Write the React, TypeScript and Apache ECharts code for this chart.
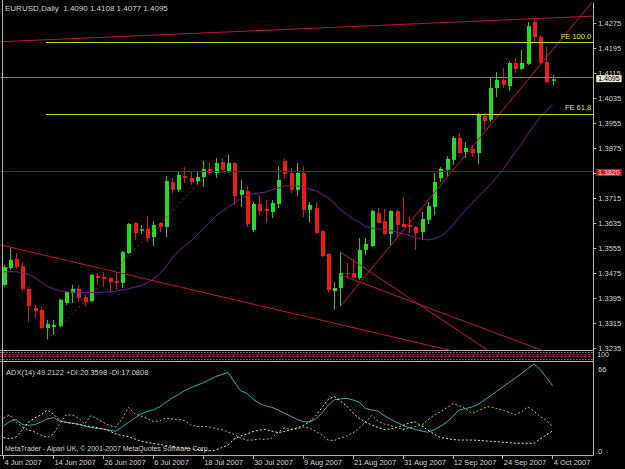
import React, { useEffect, useRef } from 'react';
import * as echarts from 'echarts';

// ---------- axis tick labels ----------
const priceTicks = [1.4275, 1.4195, 1.4115, 1.4035, 1.3955, 1.3875, 1.3795, 1.3715, 1.3635, 1.3555, 1.3475, 1.3395, 1.3315, 1.3235];
const dateTicks = ['4 Jun 2007', '14 Jun 2007', '26 Jun 2007', '6 Jul 2007', '18 Jul 2007', '30 Jul 2007', '9 Aug 2007', '21 Aug 2007', '31 Aug 2007', '12 Sep 2007', '24 Sep 2007', '4 Oct 2007'];
const dateTickStep = 8; // bars between date labels

// ---------- daily candles (bar 0 = 4 Jun 2007) ----------
const opens = [1.3437, 1.3491, 1.3520, 1.3497, 1.3424, 1.3363, 1.3357, 1.3299, 1.3302, 1.3305,
  1.3379, 1.3411, 1.3424, 1.3398, 1.3385, 1.3465, 1.3462, 1.3459, 1.3449, 1.3443,
  1.3539, 1.3635, 1.3610, 1.3616, 1.3590, 1.3635, 1.3622, 1.3766, 1.3741, 1.3785,
  1.3779, 1.3769, 1.3782, 1.3808, 1.3795, 1.3830, 1.3801, 1.3827, 1.3725, 1.3737,
  1.3613, 1.3696, 1.3680, 1.3670, 1.3696, 1.3833, 1.3795, 1.3741, 1.3795, 1.3677,
  1.3683, 1.3609, 1.3536, 1.3417, 1.3427, 1.3475, 1.3475, 1.3459, 1.3549, 1.3561,
  1.3667, 1.3641, 1.3600, 1.3673, 1.3632, 1.3629, 1.3622, 1.3606, 1.3645, 1.3686,
  1.3779, 1.3805, 1.3837, 1.3907, 1.3862, 1.3872, 1.3859, 1.3977, 1.3965, 1.4067,
  1.4093, 1.4073, 1.4147, 1.4128, 1.4144, 1.4278, 1.4230, 1.4150, 1.4090];
const closes = [1.3494, 1.3517, 1.3494, 1.3424, 1.3369, 1.3353, 1.3299, 1.3312, 1.3309, 1.3389,
  1.3414, 1.3424, 1.3395, 1.3382, 1.3469, 1.3459, 1.3456, 1.3446, 1.3443, 1.3542,
  1.3632, 1.3603, 1.3615, 1.3587, 1.3629, 1.3622, 1.3769, 1.3741, 1.3789, 1.3779,
  1.3766, 1.3782, 1.3808, 1.3795, 1.3827, 1.3805, 1.3827, 1.3721, 1.3741, 1.3632,
  1.3696, 1.3673, 1.3673, 1.3699, 1.3773, 1.3792, 1.3741, 1.3795, 1.3677, 1.3693,
  1.3603, 1.3529, 1.3421, 1.3427, 1.3475, 1.3472, 1.3459, 1.3549, 1.3568, 1.3673,
  1.3635, 1.3600, 1.3673, 1.3629, 1.3622, 1.3622, 1.3603, 1.3648, 1.3689, 1.3766,
  1.3808, 1.3840, 1.3907, 1.3859, 1.3875, 1.3859, 1.3981, 1.3961, 1.4067, 1.4093,
  1.4077, 1.4147, 1.4128, 1.4147, 1.4265, 1.4230, 1.4147, 1.4086, 1.4095];
const lows = [1.3430, 1.3485, 1.3488, 1.3417, 1.3318, 1.3331, 1.3296, 1.3261, 1.3277, 1.3302,
  1.3373, 1.3379, 1.3385, 1.3369, 1.3382, 1.3437, 1.3430, 1.3411, 1.3421, 1.3427,
  1.3536, 1.3581, 1.3600, 1.3574, 1.3561, 1.3606, 1.3590, 1.3731, 1.3734, 1.3763,
  1.3757, 1.3757, 1.3750, 1.3789, 1.3779, 1.3795, 1.3795, 1.3693, 1.3686, 1.3622,
  1.3606, 1.3661, 1.3635, 1.3651, 1.3683, 1.3779, 1.3731, 1.3721, 1.3654, 1.3638,
  1.3600, 1.3526, 1.3414, 1.3357, 1.3369, 1.3459, 1.3457, 1.3453, 1.3533, 1.3558,
  1.3633, 1.3597, 1.3561, 1.3590, 1.3620, 1.3603, 1.3549, 1.3581, 1.3632, 1.3661,
  1.3766, 1.3782, 1.3821, 1.3857, 1.3843, 1.3846, 1.3824, 1.3933, 1.3958, 1.4038,
  1.4067, 1.4057, 1.4115, 1.4125, 1.4141, 1.4211, 1.4141, 1.4083, 1.4077];
const highs = [1.3501, 1.3555, 1.3539, 1.3510, 1.3430, 1.3373, 1.3366, 1.3325, 1.3325, 1.3392,
  1.3417, 1.3437, 1.3437, 1.3405, 1.3471, 1.3475, 1.3478, 1.3462, 1.3478, 1.3545,
  1.3635, 1.3638, 1.3629, 1.3657, 1.3641, 1.3638, 1.3785, 1.3779, 1.3798, 1.3814,
  1.3801, 1.3798, 1.3833, 1.3827, 1.3843, 1.3843, 1.3853, 1.3830, 1.3773, 1.3753,
  1.3702, 1.3725, 1.3709, 1.3709, 1.3817, 1.3840, 1.3811, 1.3827, 1.3817, 1.3702,
  1.3702, 1.3613, 1.3538, 1.3446, 1.3542, 1.3507, 1.3520, 1.3587, 1.3587, 1.3677,
  1.3683, 1.3680, 1.3677, 1.3677, 1.3718, 1.3654, 1.3625, 1.3670, 1.3702, 1.3795,
  1.3814, 1.3849, 1.3913, 1.3923, 1.3894, 1.3885, 1.3987, 1.3987, 1.4099, 1.4118,
  1.4131, 1.4153, 1.4163, 1.4189, 1.4278, 1.4285, 1.4237, 1.4198, 1.4108];

// moving average (purple)
const movingAvg = [1.3479, 1.3479, 1.3479, 1.3477, 1.3470, 1.3461, 1.3446, 1.3433, 1.3424, 1.3418,
  1.3415, 1.3414, 1.3413, 1.3413, 1.3413, 1.3413, 1.3414, 1.3415, 1.3416, 1.3421,
  1.3424, 1.3430, 1.3434, 1.3443, 1.3456, 1.3473, 1.3494, 1.3523, 1.3544, 1.3561,
  1.3577, 1.3597, 1.3617, 1.3637, 1.3657, 1.3672, 1.3686, 1.3699, 1.3713, 1.3723,
  1.3728, 1.3731, 1.3734, 1.3741, 1.3747, 1.3754, 1.3754, 1.3754, 1.3749, 1.3744,
  1.3739, 1.3728, 1.3715, 1.3699, 1.3677, 1.3664, 1.3649, 1.3637, 1.3624, 1.3619,
  1.3616, 1.3615, 1.3611, 1.3606, 1.3601, 1.3595, 1.3589, 1.3584, 1.3581, 1.3584,
  1.3592, 1.3606, 1.3629, 1.3653, 1.3675, 1.3697, 1.3718, 1.3737, 1.3757, 1.3782,
  1.3805, 1.3833, 1.3862, 1.3886, 1.3920, 1.3947, 1.3975, 1.3995, 1.4013];

// ADX(14) pane
const adx = [20.6, 23.8, 25.2, 21.6, 21.1, 21.6, 23.4, 25.5, 26.6, 24.0,
  23.3, 22.7, 21.8, 20.6, 19.5, 18.9, 18.5, 17.6, 16.8, 20.0,
  23.1, 26.1, 29.1, 30.9, 32.1, 34.1, 37.3, 40.4, 42.9, 45.6,
  47.7, 49.5, 51.3, 53.4, 55.7, 57.1, 58.6, 51.8, 45.6, 43.8,
  39.6, 36.6, 34.9, 33.8, 31.9, 29.7, 27.5, 25.5, 23.7, 23.5,
  25.5, 29.8, 35.1, 39.2, 39.8, 40.2, 39.0, 37.6, 33.1, 31.9,
  31.2, 28.0, 25.5, 23.1, 21.1, 19.4, 18.1, 17.0, 16.2, 17.7,
  20.4, 23.1, 27.3, 31.9, 33.0, 33.9, 35.8, 38.7, 41.9, 45.1,
  48.3, 51.5, 54.6, 57.8, 61.2, 64.6, 60.7, 55.0, 49.2];
const plusDI = [26.3, 28.4, 23.4, 19.9, 17.7, 16.3, 14.2, 12.4, 14.9, 22.0,
  28.4, 28.4, 26.3, 22.0, 28.0, 25.5, 23.1, 20.9, 19.9, 25.5,
  33.7, 29.5, 27.7, 25.9, 23.8, 24.1, 26.3, 25.5, 25.3, 24.5,
  21.3, 20.2, 20.2, 19.9, 18.8, 18.0, 16.3, 14.5, 12.1, 10.6,
  10.6, 11.4, 11.0, 12.1, 16.3, 19.2, 18.1, 18.5, 19.9, 19.2,
  17.0, 14.2, 10.6, 10.3, 12.1, 13.5, 15.6, 19.2, 23.4, 28.0,
  24.1, 22.0, 20.9, 19.5, 18.1, 19.2, 20.2, 21.3, 24.8, 28.4,
  30.5, 33.4, 36.2, 35.1, 33.0, 29.5, 31.2, 33.4, 34.3, 33.0,
  31.9, 30.2, 28.7, 30.5, 34.1, 31.2, 27.3, 24.5, 20.4];
const minusDI = [12.4, 11.4, 12.8, 17.7, 23.4, 26.3, 28.4, 31.9, 29.1, 24.5,
  23.1, 22.4, 21.8, 20.9, 20.2, 19.4, 18.5, 17.0, 14.9, 13.8,
  13.1, 11.4, 9.9, 8.9, 8.2, 7.5, 6.7, 6.2, 5.5, 5.0,
  4.3, 3.9, 3.2, 3.0, 3.5, 5.3, 7.1, 11.4, 13.5, 14.9,
  16.7, 17.7, 18.1, 17.0, 16.0, 16.7, 18.1, 19.2, 20.9, 23.4,
  27.7, 33.4, 39.4, 41.4, 38.3, 34.8, 29.8, 26.0, 23.4, 21.3,
  19.5, 18.1, 18.5, 19.5, 20.9, 22.7, 23.4, 20.6, 17.7, 14.9,
  12.4, 11.7, 11.0, 10.6, 10.6, 10.6, 10.4, 10.1, 9.7, 9.4,
  9.0, 8.7, 8.3, 8.3, 8.3, 8.3, 11.4, 14.2, 17.1];

// ---------- drawn objects (bar index, price) ----------
const topChannel = [[-0.5, 1.4215], [94.5, 1.4297]];
const riseLine = [[54, 1.3369], [94.5, 1.4346]];
const dottedRise = [[7, 1.3261], [36, 1.3859]];
const fallLong = [[-0.5, 1.3565], [80, 1.3188]];
const fallSteep = [[54, 1.3542], [80, 1.3196]];
const fallMid = [[54, 1.3469], [94.5, 1.3166]];
const fibStart = 6.8;
const fe100 = 1.4213;
const fe618 = 1.3984;
const supportLevel = 1.3820;
const bidPrice = 1.4095;
const stripLevels = [88, 66, 44, 18];

const FONT = '"Liberation Sans", Arial, sans-serif';
const FRAME = '#BAB39B';
const TXT = '#D2D2D2';
const TREND = '#C0143C';

export default function App() {
  const ref = useRef<HTMLDivElement>(null);

  useEffect(() => {
    document.body.style.margin = '0';
    document.body.style.background = '#000';
    const chart = echarts.init(ref.current as HTMLDivElement, null, { renderer: 'svg' });

    const candles = opens.map((o, i) => [i, o, closes[i], lows[i], highs[i]]);
    const pts = (arr: number[]) => arr.map((v, i) => [i, v]);
    const barTickValues = dateTicks.map((_, k) => k * dateTickStep);

    const trendSeries = (data: number[][], type: any, color: string) => ({
      type: 'line',
      xAxisIndex: 0,
      yAxisIndex: 0,
      data,
      clip: true,
      symbol: 'none',
      silent: true,
      z: 3,
      lineStyle: { color, width: 1, type },
    });

    const hiddenX = (gridIndex: number, showLine: boolean) => ({
      type: 'value',
      gridIndex,
      min: -0.5,
      max: 94.5,
      axisLine: { show: showLine, lineStyle: { color: FRAME, width: 1 } },
      axisTick: { show: false },
      axisLabel: { show: false },
      splitLine: { show: false },
    });

    const boxLabel = (text: string, bg: string, fg: string) => ({
      show: true, position: 'end', distance: 3, formatter: text, offset: [0, 1],
      backgroundColor: bg, color: fg, fontSize: 7, lineHeight: 6, fontFamily: FONT, padding: [1, 2, 0, 2],
    });

    const option: any = {
      animation: false,
      backgroundColor: '#000000',
      textStyle: { fontFamily: FONT },
      title: [
        { text: 'EURUSD,Daily  1.4090 1.4108 1.4077 1.4095', left: 5, top: 4, padding: 0,
          textStyle: { color: TXT, fontSize: 8, fontWeight: 'normal', fontFamily: FONT } },
        { text: 'ADX(14) 49.2122 +DI:20.3598 -DI:17.0808', left: 6, top: 368, padding: 0,
          textStyle: { color: TXT, fontSize: 7.5, fontWeight: 'normal', fontFamily: FONT } },
        { text: 'MetaTrader - Alpari UK, © 2001-2007 MetaQuotes Software Corp.', left: 5, top: 445, padding: 0,
          textStyle: { color: TXT, fontSize: 7, fontWeight: 'normal', fontFamily: FONT } },
      ],
      grid: [
        { left: 0.4, top: 3, width: 592.8, height: 347 },
        { left: 0.4, top: 351, width: 592.8, height: 10 },
        { left: 0.4, top: 362, width: 592.8, height: 93 },
      ],
      xAxis: [
        hiddenX(0, true),
        hiddenX(1, true),
        {
          type: 'value', gridIndex: 2, min: -0.5, max: 94.5,
          axisLine: { show: true, lineStyle: { color: FRAME, width: 1 } },
          axisTick: { show: true, length: 4, customValues: barTickValues, lineStyle: { color: FRAME } },
          axisLabel: {
            show: true, customValues: barTickValues, align: 'left', margin: 3, padding: [0, 0, 0, 1],
            color: TXT, fontSize: 7.5, fontFamily: FONT,
            formatter: (v: number) => dateTicks[Math.round(v / dateTickStep)] ?? '',
          },
          splitLine: { show: false },
        },
      ],
      yAxis: [
        {
          type: 'value', gridIndex: 0, position: 'right', min: 1.32286, max: 1.4339, scale: true,
          axisLine: { show: true, onZero: false, lineStyle: { color: FRAME, width: 1 } },
          axisTick: { show: true, length: 3, customValues: priceTicks, lineStyle: { color: FRAME } },
          axisLabel: { show: true, customValues: priceTicks, margin: 5, color: TXT, fontSize: 7.5, lineHeight: 6,
            fontFamily: FONT, formatter: (v: number) => v.toFixed(4) },
          splitLine: { show: false },
        },
        {
          type: 'value', gridIndex: 1, position: 'right', min: 0, max: 100,
          axisLine: { show: true, onZero: false, lineStyle: { color: FRAME, width: 1 } },
          axisTick: { show: false },
          axisLabel: { show: true, customValues: [100], margin: 4, verticalAlign: 'top', color: TXT, fontSize: 7, fontFamily: FONT },
          splitLine: { show: false },
        },
        {
          type: 'value', gridIndex: 2, position: 'right', min: 0, max: 66,
          axisLine: { show: true, onZero: false, lineStyle: { color: FRAME, width: 1 } },
          axisTick: { show: false },
          axisLabel: { show: false },
          splitLine: { show: false },
        },
      ],
      graphic: [
        { type: 'line', silent: true, z: 10, shape: { x1: 2.5, y1: 0, x2: 2.5, y2: 455 }, style: { stroke: FRAME, lineWidth: 1 } },
        { type: 'text', silent: true, z: 10, x: 598, y: 369, style: { text: '66', fill: TXT, fontSize: 7.5, fontFamily: FONT, verticalAlign: 'middle' } },
        { type: 'text', silent: true, z: 10, x: 598, y: 451, style: { text: '0', fill: TXT, fontSize: 7.5, fontFamily: FONT, verticalAlign: 'middle' } },
      ],
      series: [
        {
          type: 'custom',
          name: 'EURUSD',
          xAxisIndex: 0,
          yAxisIndex: 0,
          clip: true,
          silent: true,
          z: 2,
          data: candles,
          encode: { x: 0, y: [1, 2, 3, 4] },
          renderItem: (params: any, api: any) => {
            const i = api.value(0);
            const o = api.value(1);
            const c = api.value(2);
            const l = api.value(3);
            const h = api.value(4);
            const pO = api.coord([i, o]);
            const pC = api.coord([i, c]);
            const pL = api.coord([i, l]);
            const pH = api.coord([i, h]);
            const xc = Math.round(pO[0]);
            const up = c >= o;
            const top = Math.min(pO[1], pC[1]);
            const bh = Math.max(1, Math.abs(pO[1] - pC[1]));
            return {
              type: 'group',
              children: [
                { type: 'line', shape: { x1: xc + 0.5, y1: pH[1], x2: xc + 0.5, y2: pL[1] },
                  style: { stroke: up ? '#1EC81E' : '#D4122C', lineWidth: 1 } },
                { type: 'rect', shape: { x: xc - 1, y: top, width: 4, height: bh },
                  style: { fill: up ? '#22DC22' : '#EC1C12' } },
              ],
            };
          },
        },
        {
          type: 'line',
          name: 'MA',
          xAxisIndex: 0,
          yAxisIndex: 0,
          data: pts(movingAvg),
          symbol: 'none',
          silent: true,
          z: 3,
          lineStyle: { color: '#74139C', width: 1 },
          markLine: {
            silent: true,
            symbol: ['none', 'none'],
            animation: false,
            data: [
              { yAxis: supportLevel, lineStyle: { color: '#8A0F2C', width: 1, type: 'solid' },
                label: boxLabel(supportLevel.toFixed(4), '#E0141C', '#FFE6E6') },
              { yAxis: bidPrice, lineStyle: { color: '#7E7E7E', width: 1, type: 'solid' },
                label: boxLabel(bidPrice.toFixed(4), '#EFE6CF', '#000000') },
              [
                { coord: [fibStart, fe100], lineStyle: { color: '#D8D81A', width: 1, type: 'solid' },
                  label: { show: true, position: 'insideEndTop', distance: 2, formatter: 'FE 100.0',
                    color: '#E4E45A', fontSize: 7.5, fontFamily: FONT } },
                { coord: [94.5, fe100] },
              ],
              [
                { coord: [fibStart, fe618], lineStyle: { color: '#D8D81A', width: 1, type: 'solid' },
                  label: { show: true, position: 'insideEndTop', distance: 2, formatter: 'FE 61.8',
                    color: '#E4E45A', fontSize: 7.5, fontFamily: FONT } },
                { coord: [94.5, fe618] },
              ],
            ],
          },
        },
        trendSeries(topChannel, 'solid', TREND),
        trendSeries(riseLine, 'solid', TREND),
        trendSeries(dottedRise, [2, 3], '#A8123C'),
        trendSeries(fallLong, 'solid', TREND),
        trendSeries(fallSteep, 'solid', TREND),
        trendSeries(fallMid, 'solid', TREND),
        {
          type: 'line',
          xAxisIndex: 1,
          yAxisIndex: 1,
          data: [],
          silent: true,
          markLine: {
            silent: true,
            symbol: ['none', 'none'],
            animation: false,
            label: { show: false },
            data: [
              { yAxis: stripLevels[0], lineStyle: { color: '#D8D8D8', width: 1, type: [1, 2] } },
              { yAxis: stripLevels[1], lineStyle: { color: '#E02020', width: 1, type: [2, 2] } },
              { yAxis: stripLevels[2], lineStyle: { color: '#C030B0', width: 1, type: [2, 2] } },
              { yAxis: stripLevels[3], lineStyle: { color: '#B0B0B0', width: 1, type: [1, 2] } },
            ],
          },
        },
        {
          type: 'line', name: 'ADX', xAxisIndex: 2, yAxisIndex: 2, data: pts(adx), symbol: 'none', silent: true,
          lineStyle: { color: '#20B2AA', width: 1 },
        },
        {
          type: 'line', name: '+DI', xAxisIndex: 2, yAxisIndex: 2, data: pts(plusDI), symbol: 'none', silent: true,
          lineStyle: { color: '#9ACD32', width: 1, type: [2, 2] },
        },
        {
          type: 'line', name: '-DI', xAxisIndex: 2, yAxisIndex: 2, data: pts(minusDI), symbol: 'none', silent: true,
          lineStyle: { color: '#F5DEB3', width: 1, type: [2, 2] },
        },
      ],
    };

    chart.setOption(option);
    return () => {
      chart.dispose();
    };
  }, []);

  return (
    <div
      ref={ref}
      style={{ position: 'fixed', left: 0, top: 0, width: 625, height: 469, background: '#000' }}
    />
  );
}
